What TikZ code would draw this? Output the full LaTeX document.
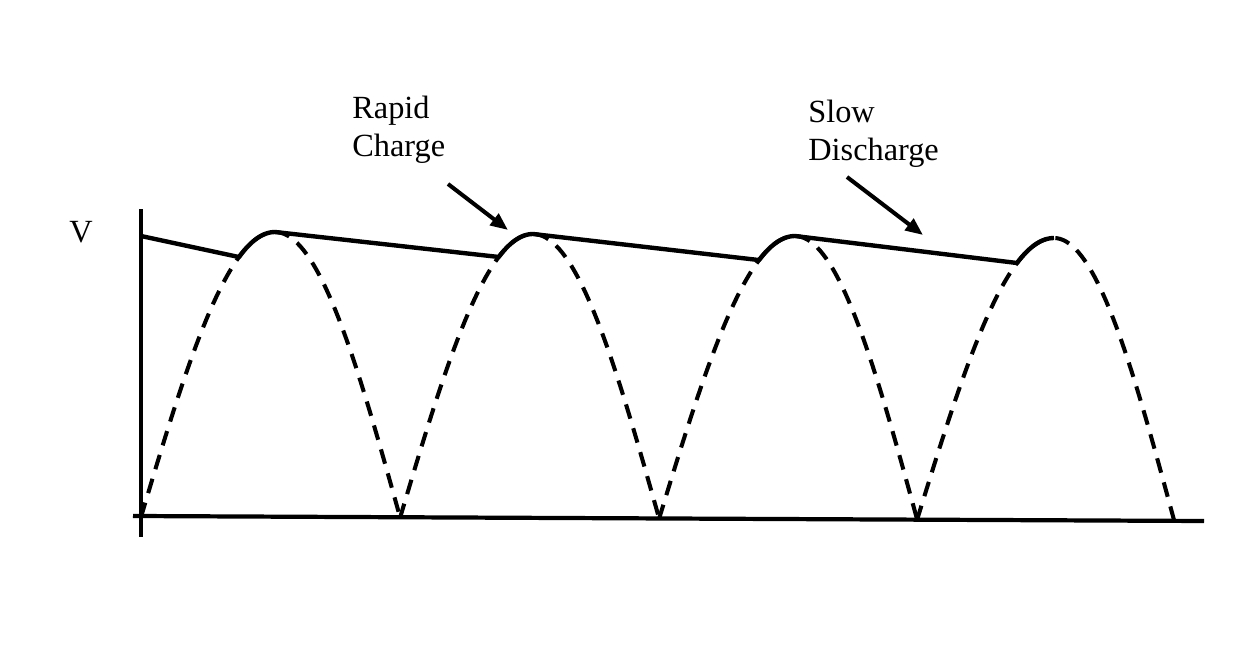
\documentclass[tikz,border=0pt]{standalone}
\usepackage{fontspec}
\setmainfont{Liberation Serif}
\usetikzlibrary{arrows.meta}
\begin{document}
\begin{tikzpicture}[x=0.02cm,y=-0.02cm,
  axis/.style={line width=2.4pt},
  envelope/.style={line width=2.5pt, line join=round},
  rectified/.style={line width=2.3pt, dash pattern=on 8.5pt off 5.7pt},
  lbl/.style={font=\fontsize{18.4}{21.3}\selectfont, inner sep=0pt, align=left},
  pointer/.style={line width=2.3pt, -{Triangle[length=10pt,width=8pt]}}]
\useasboundingbox (0,0) rectangle (1249,665);

% axes
\coordinate (yb) at (141,537);
\coordinate (yt) at (141,209);
\coordinate (xl) at (133,516);
\coordinate (xr) at (1204,521);
\draw[axis] (yb) -- (yt);
\draw[axis] (xl) -- (xr);

% dashed rectified sine arches
\foreach \xa/\xp/\xb/\yb/\hh in {141/275/400/517/285, 400/533/659/518/284, 659/795/917/519/283, 917/1054/1174/520/282}{
  \draw[rectified] plot[domain=0:90,samples=40] ({\xa+(\xp-\xa)*\x/90},{\yb-\hh*sin(\x)})
    -- plot[domain=90:0,samples=40] ({\xb-(\xb-\xp)*\x/90},{\yb-\hh*sin(\x)});
}

% solid envelope (capacitor voltage)
\coordinate (vstart) at (141,236);
\draw[envelope] (vstart)
  -- plot[domain=65.8:90,samples=16] ({141+134*\x/90},{517-285*sin(\x)})
  -- plot[domain=66.8:90,samples=16] ({400+133*\x/90},{518-284*sin(\x)})
  -- plot[domain=66.2:90,samples=16] ({659+136*\x/90},{519-283*sin(\x)})
  -- plot[domain=65.7:90,samples=16] ({917+137*\x/90},{520-282*sin(\x)});

% labels
\node[lbl, anchor=base west] (v) at (69,243) {V};
\node[lbl, anchor=north west] (rapid) at (352,95.8) {Rapid\\Charge};
\node[lbl, anchor=north west] (slow) at (808,100.1) {Slow\\Discharge};

% pointers
\coordinate (r0) at (448,184);
\coordinate (r1) at (508,230);
\coordinate (s0) at (847,177);
\coordinate (s1) at (923,235);
\draw[pointer] (r0) -- (r1);
\draw[pointer] (s0) -- (s1);
\end{tikzpicture}
\end{document}
